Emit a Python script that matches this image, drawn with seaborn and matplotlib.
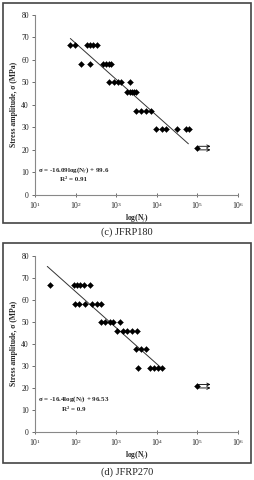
import matplotlib
matplotlib.use('Agg')
import matplotlib.pyplot as plt
from matplotlib.patches import Rectangle
from matplotlib.ticker import LogLocator, NullLocator
import seaborn as sns
import pandas as pd

# JFRP180 (panel c)
c_cycles = [74, 97, 195, 230, 275, 330,
            138, 220, 470, 560, 660, 740,
            650, 870, 1100, 1330, 2130,
            1860, 2150, 2400, 2700, 3000,
            3150, 4150, 5500, 7100,
            9300, 13800, 16700, 31000, 51000, 62000]
c_stress = [66.7] * 6 + [58.3] * 6 + [50.0] * 5 + [45.8] * 5 + [37.5] * 4 + [29.2] * 6
c_fit_n = [74, 60000]
c_fit_s = [69.5, 22.7]
c_eq = 'σ = -16.09log(N$_{f}$) + 99.6'
c_r2 = 'R² = 0.91'

# JFRP270 (panel d)
d_cycles = [23, 89, 107, 129, 158, 230,
            98, 118, 173, 250, 335, 430,
            410, 540, 700, 820, 1260,
            1050, 1480, 1870, 2470, 3300,
            3150, 4000, 5300,
            3450, 6700, 8500, 10700, 13700]
d_stress = [66.7] * 6 + [58.3] * 6 + [50.0] * 5 + [45.8] * 5 + [37.5] * 3 + [29.2] * 5
d_fit_n = [20, 14000]
d_fit_s = [75.2, 28.5]
d_eq = 'σ = -16.4log(N$_{f}$) + 96.53'
d_r2 = 'R² = 0.9'

# run-outs (no failure)
runout_n = [100000]
runout_s = [20.8]

captions = ['(c) JFRP180', '(d) JFRP270']

sns.set_style('white')
plt.rcParams['font.family'] = ['Liberation Serif', 'DejaVu Serif']
plt.rcParams['mathtext.fontset'] = 'stix'

fig = plt.figure(figsize=(2.54, 4.8), dpi=100)

panels = [
    (c_cycles, c_stress, c_fit_n, c_fit_s, c_eq, c_r2, [0.138, 0.594, 0.799, 0.375], (10.8, 6.8)),
    (d_cycles, d_stress, d_fit_n, d_fit_s, d_eq, d_r2, [0.138, 0.100, 0.799, 0.367], (14.6, 10.4)),
]
boxes = [(0.012, 0.536, 0.976, 0.458), (0.012, 0.036, 0.976, 0.458)]
cap_y = [0.517, 0.017]

for i, (n, s, fn, fs, eq, r2, pos, ty) in enumerate(panels):
    ax = fig.add_axes(pos)
    df = pd.DataFrame({'N': n, 'S': s})
    sns.scatterplot(data=df, x='N', y='S', ax=ax, marker='D', color='black',
                    s=9, edgecolor='black', linewidth=0.3, zorder=3)
    sns.lineplot(x=fn, y=fs, ax=ax, color='#333333', linewidth=0.7, zorder=2)
    sns.scatterplot(x=runout_n, y=runout_s, ax=ax, marker='D', color='black',
                    s=9, edgecolor='black', linewidth=0.3, zorder=3)
    for dy in (0.8, -0.8):
        ax.annotate('', xy=(2.1e5, runout_s[0] + dy), xytext=(1.05e5, runout_s[0] + dy),
                    arrowprops=dict(arrowstyle='->', color='black', lw=0.6,
                                    shrinkA=0, shrinkB=0, mutation_scale=5))

    ax.set_xscale('log')
    ax.set_xlim(10, 1e6)
    ax.set_ylim(0, 80)
    ax.set_yticks(range(0, 81, 10))
    ax.xaxis.set_major_locator(LogLocator(base=10, numticks=10))
    ax.xaxis.set_minor_locator(NullLocator())
    ax.tick_params(axis='x', direction='inout', length=3, width=0.6, labelsize=5.5,
                   colors='#555555', labelcolor='#222222', pad=2, bottom=True)
    ax.tick_params(axis='y', direction='out', length=2.5, width=0.6, labelsize=5.5,
                   colors='#555555', labelcolor='#222222', pad=2, left=True)
    for sp in ['top', 'right']:
        ax.spines[sp].set_visible(False)
    for sp in ['left', 'bottom']:
        ax.spines[sp].set_color('#888888')
        ax.spines[sp].set_linewidth(0.8)

    ax.set_xlabel('log(N$_{f}$)', fontsize=5.5, fontweight='bold', labelpad=1)
    ax.set_ylabel('Stress amplitude, σ (MPa)', fontsize=5.5, fontweight='bold', labelpad=2)

    ax.text(10 ** 1.95, ty[0], eq, fontsize=5, fontweight='bold', ha='center', va='center')
    ax.text(10 ** 1.95, ty[1], r2, fontsize=5, fontweight='bold', ha='center', va='center')

    fig.add_artist(Rectangle(boxes[i][:2], boxes[i][2], boxes[i][3], transform=fig.transFigure,
                             fill=False, edgecolor='#444444', linewidth=1.2))
    fig.text(0.5, cap_y[i], captions[i], fontsize=7.5, ha='center', va='center', color='#222222')

fig.savefig('out.png', dpi=100)
plt.close(fig)
